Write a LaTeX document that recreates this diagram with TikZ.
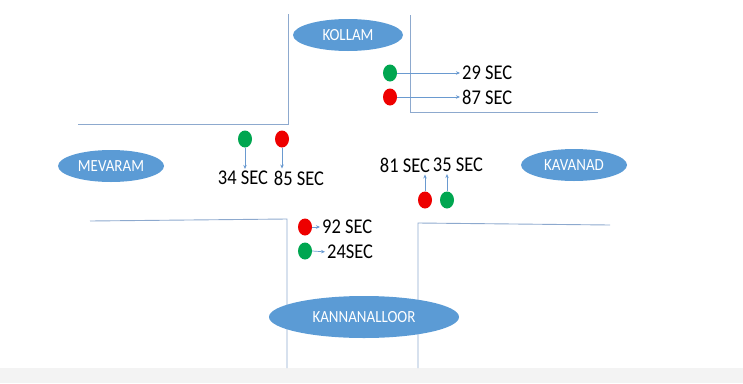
\documentclass[tikz,border=0pt]{standalone}
\usepackage{fontspec}
\setmainfont{Carlito}
\newfontfamily\condensedfont[FakeStretch=0.88]{Carlito}
\usetikzlibrary{arrows.meta,shapes.geometric}
\definecolor{cityblue}{HTML}{5B9BD5}
\definecolor{roadline}{HTML}{8DA9CE}
\definecolor{arrowblue}{HTML}{6A9AD0}
\definecolor{lgreen}{HTML}{00A650}
\definecolor{lred}{HTML}{EE0000}
\definecolor{bandgray}{HTML}{F3F3F3}
\tikzset{
  city/.style={ellipse, fill=cityblue, draw=none, text=white, inner sep=0pt,
    font=\condensedfont\fontsize{17}{17}\selectfont},
  road/.style={draw=roadline, line width=0.9pt},
  gdot/.style={ellipse, fill=lgreen, minimum width=14pt, minimum height=17pt, inner sep=0pt},
  rdot/.style={ellipse, fill=lred, minimum width=14pt, minimum height=17pt, inner sep=0pt},
  secs/.style={inner sep=0pt, text=black, font=\condensedfont\fontsize{21}{21}\selectfont},
  sigarrow/.style={draw=arrowblue, line width=0.7pt, shorten >=2pt, -{Stealth[length=4pt,width=3.5pt]}}
}
\begin{document}
\begin{tikzpicture}[x=1pt,y=-1pt]
\useasboundingbox (0,0) rectangle (743,383);
\fill[bandgray] (0,368) rectangle (743,383);
% roads
\draw[road] (288,14) -- (288,124) -- (78,124);
\draw[road] (410,15) -- (410,112) -- (598,112);
\draw[road] (90,221) -- (287,219) -- (287,368);
\draw[road] (418,368) -- (418,223) -- (610,225);
% cities
\node[city, minimum width=110pt, minimum height=32pt] (kollam) at (348,35) {KOLLAM};
\node[city, minimum width=106pt, minimum height=32pt] (mevaram) at (111,166) {MEVARAM};
\node[city, minimum width=106pt, minimum height=32pt] (kavanad) at (574,165) {KAVANAD};
\node[city, minimum width=190pt, minimum height=42pt] (kannan) at (364,317) {KANNANALLOOR};
% top signals
\node[gdot] (tg) at (390,73) {};
\node[rdot] (tr) at (390,97) {};
\node[secs, anchor=west] (t29) at (462,73) {29 SEC};
\node[secs, anchor=west] (t87) at (462,97) {87 SEC};
\draw[sigarrow] (tg.east) -- (t29.west);
\draw[sigarrow] (tr.east) -- (t87.west);
% left signals
\node[gdot] (lg) at (245,139) {};
\node[rdot] (lr) at (282,139) {};
\node[secs] (l34) at (243,178) {34 SEC};
\node[secs] (l85) at (299,178) {85 SEC};
\draw[sigarrow] (lg.south) -- (lg.south |- l34.north);
\draw[sigarrow] (lr.south) -- (lr.south |- l85.north);
% right signals
\node[secs] (r81) at (405,165) {81 SEC};
\node[secs] (r35) at (458,165) {35 SEC};
\node[rdot] (rr) at (425,200) {};
\node[gdot] (rg) at (447,200) {};
\draw[sigarrow] (rr.north) -- (rr.north |- r81.south);
\draw[sigarrow] (rg.north) -- (rg.north |- r35.south);
% bottom signals
\node[rdot] (br) at (305,227) {};
\node[gdot] (bg) at (305,251) {};
\node[secs, anchor=west] (b92) at (322,227) {92 SEC};
\node[secs, anchor=west] (b24) at (327,252) {24SEC};
\draw[sigarrow] (br.east) -- (b92.west);
\draw[sigarrow] (bg.east) -- (b24.west);
\end{tikzpicture}
\end{document}
